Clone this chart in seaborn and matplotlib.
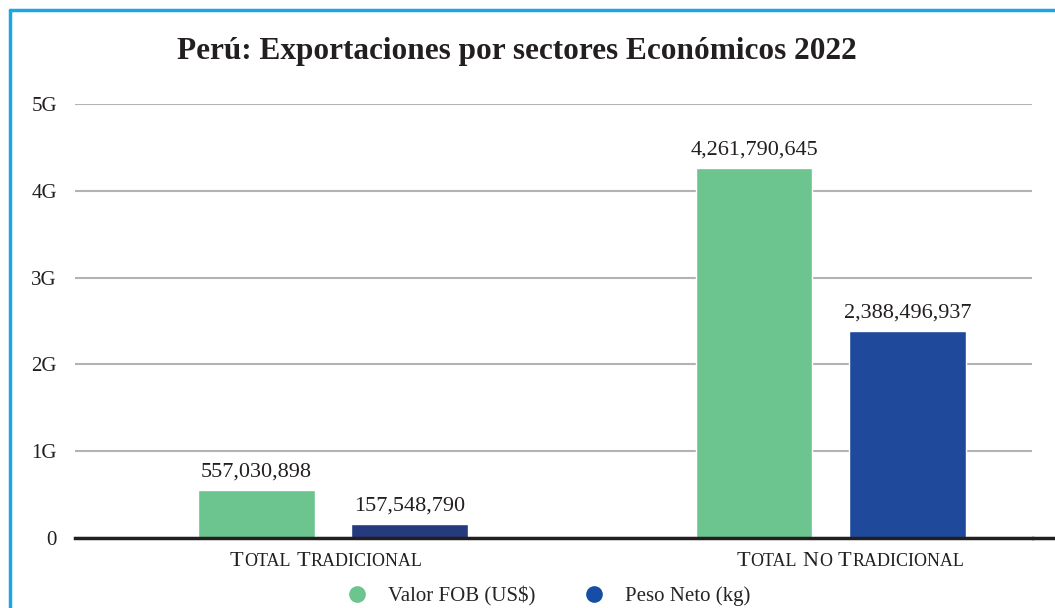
import seaborn as sns
import matplotlib.pyplot as plt
import pandas as pd
from matplotlib.lines import Line2D
from matplotlib.offsetbox import TextArea, HPacker, AnnotationBbox

# datos
sectores = ['Total Tradicional', 'Total No Tradicional']
series = ['Valor FOB (US$)', 'Peso Neto (kg)']
valor_fob = [557030898, 4261790645]
peso_neto = [157548790, 2388496937]
yticks = [0, 1e9, 2e9, 3e9, 4e9, 5e9]
ytick_labels = ['0', '1G', '2G', '3G', '4G', '5G']

colores = ['#6cc48f', '#1f4a9c']
texto = '#231f20'

df = pd.DataFrame({
    'sector': sectores * 2,
    'serie': [series[0]] * 2 + [series[1]] * 2,
    'valor': valor_fob + peso_neto,
})

sns.set_style('white')
plt.rcParams['font.family'] = ['Liberation Serif', 'DejaVu Serif']

fig = plt.figure(figsize=(10.55, 6.08), dpi=100)
ax = fig.add_axes([75/1055, 70/608, (1032-75)/1055, (538-104)/608])

sns.barplot(data=df, x='sector', y='valor', hue='serie', palette=colores,
            width=0.616, gap=0.24, ax=ax, legend=False, saturation=1)
# la barra azul pequeña es algo mas oscura en el original
ax.containers[1][0].set_facecolor('#253b7e')

for c in ax.containers:
    ax.bar_label(c, labels=[f'{v:,.0f}' for v in c.datavalues],
                 padding=6, fontsize=16, color=texto)

ax.set_ylim(0, 5e9)
ax.set_xlim(-0.518, 1.404)
ax.set_yticks(yticks)
ax.set_yticklabels(ytick_labels, fontsize=15, color=texto)
ax.set_xticks([0, 1])
ax.set_xticklabels(['', ''])
ax.tick_params(axis='y', length=0, pad=13)
ax.tick_params(axis='x', length=0)
ax.set_xlabel('')
ax.set_ylabel('')
ax.yaxis.grid(True, color='#b3b3b3', linewidth=1.5)
ax.set_axisbelow(True)
for s in ['top', 'right', 'left']:
    ax.spines[s].set_visible(False)
ax.spines['bottom'].set_color(texto)
ax.spines['bottom'].set_linewidth(2.5)


# etiquetas en versalitas
def versalitas(etiqueta):
    palabras = []
    for w in etiqueta.split():
        partes = [TextArea(w[0].upper(), textprops=dict(fontsize=16, color=texto))]
        if len(w) > 1:
            partes.append(TextArea(w[1:].upper(),
                                   textprops=dict(fontsize=13, color=texto)))
        palabras.append(HPacker(children=partes, align='baseline', pad=0, sep=0.5))
    return HPacker(children=palabras, align='baseline', pad=0, sep=4)


desplazamiento = [-5, 14]  # en puntos, como en el original
for i, s in enumerate(sectores):
    ab = AnnotationBbox(versalitas(s), (i, 0), xybox=(desplazamiento[i], -10),
                        xycoords=('data', 'data'), boxcoords='offset points',
                        box_alignment=(0.5, 1), frameon=False, pad=0)
    ax.add_artist(ab)

fig.text(0.49, 1 - 51/608, 'Perú: Exportaciones por sectores Económicos 2022',
         ha='center', va='center', fontsize=22.5, fontweight='bold',
         color=texto)

handles = [Line2D([], [], marker='o', linestyle='', markersize=11,
                  color=col) for col in ['#6cc48f', '#164ea6']]
fig.legend(handles, series, loc='center', ncol=2, frameon=False,
           bbox_to_anchor=(0.515, 12/608), fontsize=15, handletextpad=0.5,
           columnspacing=1.8)

# linea base hasta el borde
fig.add_artist(Line2D([1032/1055, 1], [70/608, 70/608], color=texto,
                      linewidth=2.5))

# marco azul
fig.add_artist(Line2D([10/1055, 1], [1 - 10/608, 1 - 10/608],
                      color='#1ca6e6', linewidth=2.5))
fig.add_artist(Line2D([10/1055, 10/1055], [0, 1 - 10/608],
                      color='#1ca6e6', linewidth=2.5))

fig.savefig('out.png', dpi=100)
